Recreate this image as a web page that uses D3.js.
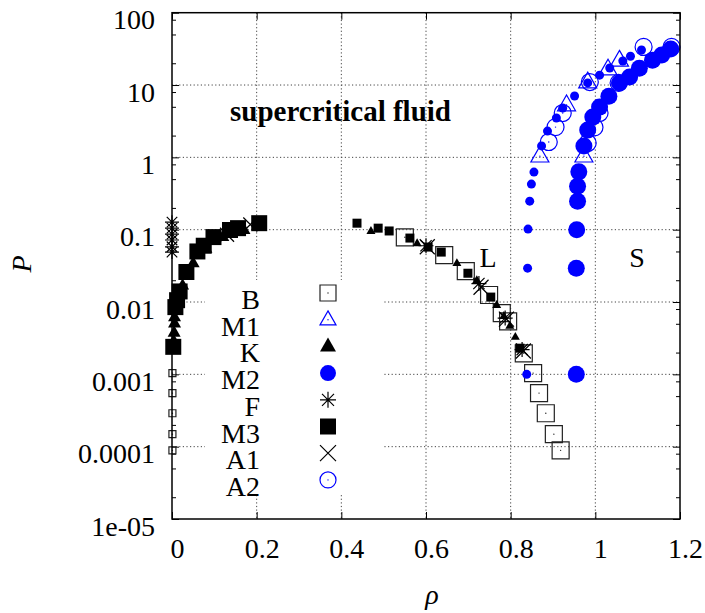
<!DOCTYPE html>
<html>
<head>
<meta charset="utf-8">
<script src="https://cdn.jsdelivr.net/npm/d3@7"></script>
<style>
  html, body { margin: 0; padding: 0; background: #fff; }
  svg { display: block; font-family: "Liberation Serif", "DejaVu Serif", serif; }
</style>
</head>
<body>
<div id="chart"></div>
<script>
// tick values and labels
var xTicks = [0, 0.2, 0.4, 0.6, 0.8, 1, 1.2];
var xTickLabels = ["0", "0.2", "0.4", "0.6", "0.8", "1", "1.2"];
var yTicks = [1e-5, 1e-4, 1e-3, 1e-2, 1e-1, 1, 10, 100];
var yTickLabels = ["1e-05", "0.0001", "0.001", "0.01", "0.1", "1", "10", "100"];

// data, [rho, P]
var bGas = [[0.001, 0.00104], [0.001, 0.00055], [0.001, 0.00029], [0.001, 0.000149], [0.001, 0.000089]];
var bLiq = [[0.550, 0.0785], [0.643, 0.0446], [0.694, 0.0268], [0.749, 0.0125], [0.779, 0.0070],
            [0.794, 0.0054], [0.831, 0.00195], [0.853, 0.00104], [0.867, 0.00055], [0.883, 0.00029],
            [0.902, 0.000149], [0.918, 0.000089]];
var m1Liq = [[0.869, 1.04], [0.932, 5.3], [0.982, 11], [1.030, 16.6], [1.057, 22]];
var m1Sol = [[0.973, 1.04]];
var kGas = [[0.004, 0.0022], [0.004, 0.0029], [0.005, 0.0038], [0.006, 0.0051], [0.006, 0.0062],
            [0.007, 0.0077], [0.012, 0.011], [0.025, 0.017], [0.05, 0.0345], [0.08, 0.055],
            [0.12, 0.08], [0.17, 0.1]];
var kLiq = [[0.470, 0.096], [0.579, 0.065], [0.673, 0.0345], [0.720, 0.0201], [0.767, 0.0091],
            [0.784, 0.0064], [0.798, 0.0047], [0.811, 0.0033]];
var m2Liq = [[0.838, 0.001], [0.840, 0.0294], [0.841, 0.102], [0.845, 0.248], [0.849, 0.427],
             [0.855, 0.626], [0.873, 1.44], [0.887, 2.31], [0.908, 3.5], [0.923, 4.8], [0.951, 7.05],
             [0.982, 10.7], [1.010, 13.7], [1.034, 17.2], [1.065, 21.5], [1.083, 25], [1.109, 30.5]];
var m2Sol = [[0.955, 0.001], [0.955, 0.0294], [0.956, 0.1], [0.958, 0.248], [0.958, 0.40],
             [0.961, 0.63], [0.973, 1.44], [0.982, 2.38], [0.994, 3.6], [1.010, 4.95], [1.032, 7.0],
             [1.057, 10.7], [1.081, 12.9], [1.104, 17], [1.135, 22], [1.157, 26], [1.178, 31.5]];
var fGas = [[0.0, 0.127], [0.0, 0.105], [0.0, 0.087], [0.0, 0.072], [0.0, 0.058], [0.0, 0.049]];
var fLiq = [[0.600, 0.060], [0.725, 0.018], [0.787, 0.006], [0.827, 0.0022]];
var m3Gas = [[0.003, 0.0024], [0.008, 0.0085], [0.012, 0.0106], [0.018, 0.014], [0.034, 0.026],
             [0.06, 0.05], [0.075, 0.06], [0.098, 0.079], [0.137, 0.099], [0.156, 0.105], [0.206, 0.123]];
var m3Liq = [[0.437, 0.123], [0.487, 0.105], [0.513, 0.096], [0.562, 0.0766], [0.605, 0.0575],
             [0.636, 0.049], [0.699, 0.025], [0.753, 0.0117], [0.822, 0.0023]];
var a1Gas = [[0.185, 0.118], [0.13, 0.085]];
var a1Liq = [[0.603, 0.058], [0.730, 0.016], [0.790, 0.0058], [0.830, 0.0021]];
var a2Liq = [[0.890, 1.63], [0.906, 2.62], [0.923, 4.1], [0.987, 11], [1.114, 33.6]];
var a2Sol = [[0.982, 1.58], [0.998, 2.6], [1.010, 4.1], [1.055, 10.7], [1.180, 33.6]];

var legendNames = ["B", "M1", "K", "M2", "F", "M3", "A1", "A2"];

var blue = "#0000ff";

// symbol paths, s = size in px
function sym(type, s) {
  var h = s / 2;
  if (type == "square") return "M" + -h + "," + -h + "H" + h + "V" + h + "H" + -h + "Z";
  if (type == "tri") return "M0," + (-h * 1.1) + "L" + h + "," + (h * 0.65) + "L" + -h + "," + (h * 0.65) + "Z";
  if (type == "circle") return "M" + h + ",0A" + h + "," + h + " 0 1,1 " + -h + ",0A" + h + "," + h + " 0 1,1 " + h + ",0Z";
  if (type == "x") return "M" + -h + "," + -h + "L" + h + "," + h + "M" + -h + "," + h + "L" + h + "," + -h;
  if (type == "star") {
    var d = h * 0.75;
    return "M" + -h + ",0H" + h + "M0," + -h + "V" + h +
           "M" + -d + "," + -d + "L" + d + "," + d + "M" + -d + "," + d + "L" + d + "," + -d;
  }
}

var styles = {
  B:  {type: "square", fill: "none", stroke: "#222", dot: true},
  M1: {type: "tri", fill: "none", stroke: blue, dot: true},
  K:  {type: "tri", fill: "#000", stroke: "none"},
  M2: {type: "circle", fill: blue, stroke: "none"},
  F:  {type: "star", fill: "none", stroke: "#000"},
  M3: {type: "square", fill: "#000", stroke: "none"},
  A1: {type: "x", fill: "none", stroke: "#000"},
  A2: {type: "circle", fill: "none", stroke: blue, dot: true}
};

// drawn in this order, like gnuplot does
var layers = [
  {name: "B", data: bGas, size: 7},
  {name: "B", data: bLiq, size: 17},
  {name: "M1", data: m1Liq, size: 18},
  {name: "M1", data: m1Sol, size: 18},
  {name: "K", data: kGas, size: 13},
  {name: "K", data: kLiq, size: 9},
  {name: "M2", data: m2Liq, size: 9},
  {name: "M2", data: m2Sol, size: 17},
  {name: "F", data: fGas, size: 14},
  {name: "F", data: fLiq, size: 15},
  {name: "M3", data: m3Gas, size: 16},
  {name: "M3", data: m3Liq, size: 9},
  {name: "A1", data: a1Gas, size: 14},
  {name: "A1", data: a1Liq, size: 15},
  {name: "A2", data: a2Liq, size: 17},
  {name: "A2", data: a2Sol, size: 17}
];

var W = 705, H = 613;
var margin = {top: 12.7, right: 25, bottom: 94, left: 172},
    width = W - margin.left - margin.right,
    height = H - margin.top - margin.bottom;

var svg = d3.select("#chart").append("svg")
    .attr("width", W)
    .attr("height", H)
    .attr("font-size", 28);

var g = svg.append("g").attr("transform", "translate(" + margin.left + "," + margin.top + ")");

var x = d3.scaleLinear().domain([0, 1.2]).range([0, width]);
var y = d3.scaleLog().domain([1e-5, 100]).range([height, 0]);

// grid
var grid = g.append("g")
    .attr("stroke", "#444")
    .attr("stroke-width", 1)
    .attr("stroke-dasharray", "1.2,2.4");

grid.selectAll(".gx").data(xTicks.slice(1, -1)).enter().append("line")
    .attr("x1", function(d) { return x(d); })
    .attr("x2", function(d) { return x(d); })
    .attr("y1", 0)
    .attr("y2", height);

grid.selectAll(".gy").data(yTicks.slice(1, -1)).enter().append("line")
    .attr("x1", 0)
    .attr("x2", width)
    .attr("y1", function(d) { return y(d); })
    .attr("y2", function(d) { return y(d); });

// minor log ticks at 2, 5, 8
var minor = [];
yTicks.slice(0, -1).forEach(function(t) {
  [2, 5, 8].forEach(function(m) { minor.push(t * m); });
});

function styleAxis(sel) {
  sel.select(".domain").remove();
  sel.attr("font-family", null).attr("font-size", null);
  sel.selectAll("line").attr("stroke", "#000");
}

g.append("g")
    .attr("transform", "translate(0," + height + ")")
    .call(d3.axisBottom(x).tickValues(xTicks).tickSize(-7)
      .tickFormat(function(d, i) { return xTickLabels[i]; }))
    .call(styleAxis)
    .selectAll("text")
      .attr("fill", "#000")
      .attr("x", 5)
      .attr("y", 39)
      .attr("dy", null);

g.append("g")
    .call(d3.axisTop(x).tickValues(xTicks).tickSize(-7).tickFormat(""))
    .call(styleAxis);

g.append("g")
    .call(d3.axisLeft(y).tickValues(yTicks).tickSize(-7).tickPadding(17)
      .tickFormat(function(d, i) { return yTickLabels[i]; }))
    .call(styleAxis)
    .selectAll("text")
      .attr("fill", "#000")
      .attr("dy", 16);

g.append("g")
    .call(d3.axisLeft(y).tickValues(minor).tickSize(-4).tickFormat(""))
    .call(styleAxis);

g.append("g")
    .attr("transform", "translate(" + width + ",0)")
    .call(d3.axisRight(y).tickValues(yTicks).tickSize(-7).tickFormat(""))
    .call(styleAxis);

g.append("g")
    .attr("transform", "translate(" + width + ",0)")
    .call(d3.axisRight(y).tickValues(minor).tickSize(-4).tickFormat(""))
    .call(styleAxis);

// opaque key box
g.append("rect")
    .attr("x", 205 - margin.left)
    .attr("y", 280 - margin.top)
    .attr("width", 178)
    .attr("height", 215)
    .attr("fill", "#fff");

// points
function drawPoint(sel, st, s) {
  sel.append("path")
      .attr("d", sym(st.type, s))
      .attr("fill", st.fill)
      .attr("stroke", st.stroke)
      .attr("stroke-width", 1.2);
  if (st.dot) {
    sel.append("circle").attr("r", 0.7).attr("fill", st.stroke);
  }
}

layers.forEach(function(layer) {
  var st = styles[layer.name];
  g.append("g").selectAll("g").data(layer.data).enter().append("g")
      .attr("transform", function(d) { return "translate(" + x(d[0]) + "," + y(d[1]) + ")"; })
      .each(function() { drawPoint(d3.select(this), st, layer.size); });
});

// legend
var key = svg.append("g");
legendNames.forEach(function(name, i) {
  var yy = 293 + i * 26.7;
  key.append("text")
      .attr("x", 260)
      .attr("y", yy + 16)
      .attr("text-anchor", "end")
      .text(name);
  var s = key.append("g").attr("transform", "translate(328," + yy + ")");
  drawPoint(s, styles[name], 16);
});

// labels
svg.append("text")
    .attr("x", 230)
    .attr("y", 121)
    .attr("font-weight", "bold")
    .attr("font-size", 29)
    .text("supercritical fluid");

svg.append("text").attr("x", 488).attr("y", 267).attr("text-anchor", "middle").text("L");
svg.append("text").attr("x", 637).attr("y", 267).attr("text-anchor", "middle").text("S");

svg.append("text")
    .attr("transform", "translate(31,264) rotate(-90)")
    .attr("text-anchor", "middle")
    .attr("font-style", "italic")
    .text("P");

svg.append("text")
    .attr("x", 432)
    .attr("y", 604)
    .attr("text-anchor", "middle")
    .attr("font-style", "italic")
    .text("ρ");

// frame
g.append("rect")
    .attr("width", width)
    .attr("height", height)
    .attr("fill", "none")
    .attr("stroke", "#000")
    .attr("stroke-width", 1.5);
</script>
</body>
</html>
